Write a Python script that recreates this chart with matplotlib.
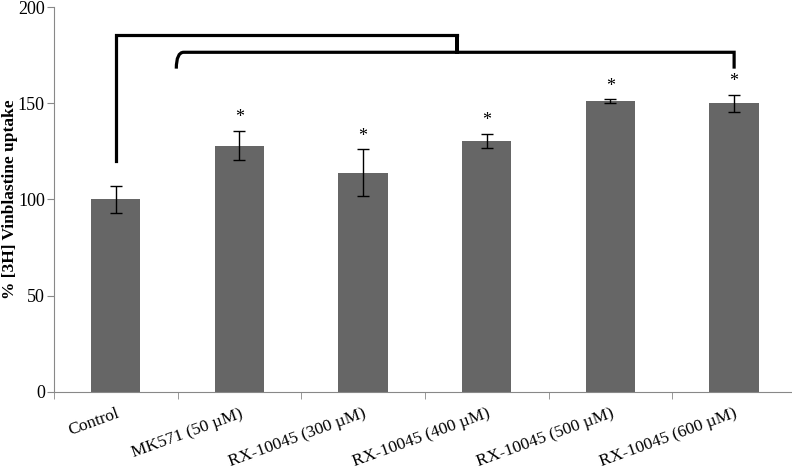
import numpy as np
import matplotlib.pyplot as plt
from matplotlib.path import Path
from matplotlib.patches import PathPatch

plt.rcParams['font.family'] = ['Liberation Serif', 'DejaVu Serif']

# datos
categorias = ['Control', 'MK571 (50 µM)', 'RX-10045 (300 µM)', 'RX-10045 (400 µM)',
              'RX-10045 (500 µM)', 'RX-10045 (600 µM)']
captacion = [100, 128, 114, 130.5, 151, 150]
error = [7, 7.5, 12, 3.7, 1, 4.5]
significativo = [False, True, True, True, True, True]

fig = plt.figure(figsize=(7.92, 4.71), dpi=100)
ax = fig.add_axes([0.068, 0.168, 0.937, 0.817])

x = np.arange(len(categorias))
ax.bar(x, captacion, width=0.4, color='#666666', zorder=2)
ax.errorbar(x, captacion, yerr=error, fmt='none', ecolor='black',
            elinewidth=1, capsize=4, capthick=1, zorder=3)

# asteriscos
for xi, v, e, s in zip(x, captacion, error, significativo):
    if s:
        ax.text(xi, v + e + 2.5, '*', ha='center', va='bottom', fontsize=13)

ax.set_xlim(-0.5, 5.5)
ax.set_ylim(0, 200)
ax.set_yticks([0, 50, 100, 150, 200])
ax.set_xticks(x)
ax.set_xticklabels(categorias, rotation=20, ha='right', rotation_mode='anchor',
                   fontsize=12.5)
ax.tick_params(axis='x', length=0, pad=10)
ax.set_xticks(np.arange(-0.5, 5.6, 1), minor=True)
ax.tick_params(axis='x', which='minor', length=5, color='#888888')
ax.tick_params(axis='y', labelsize=13, length=5, pad=1.5, color='#888888')
for lado in ['top', 'right']:
    ax.spines[lado].set_visible(False)
for lado in ['left', 'bottom']:
    ax.spines[lado].set_color('#888888')
ax.set_ylabel('% [3H] Vinblastine uptake', fontsize=12.5, fontweight='bold',
              va='center')
ax.yaxis.set_label_coords(-0.059, 0.5)

# corchetes
ax.plot([0, 0, 2.76], [120, 185.5, 185.5], color='black', lw=2.3,
        solid_joinstyle='miter', clip_on=False)
verts = [(0.49, 168), (0.49, 176.5), (0.55, 176.5), (0.55, 176.5),
         (2.70, 176.5), (2.70, 176.5), (2.76, 176.5), (2.76, 185.5),
         (2.76, 176.5), (2.82, 176.5), (2.82, 176.5),
         (4.94, 176.5), (4.94, 176.5), (5.0, 176.5), (5.0, 168)]
codes = [Path.MOVETO, Path.CURVE3, Path.CURVE3, Path.LINETO,
         Path.LINETO, Path.CURVE3, Path.CURVE3, Path.LINETO,
         Path.LINETO, Path.CURVE3, Path.LINETO,
         Path.LINETO, Path.CURVE3, Path.CURVE3, Path.LINETO]
ax.add_patch(PathPatch(Path(verts, codes), fill=False, lw=2.3, color='black'))

plt.savefig('out.png', dpi=100)
